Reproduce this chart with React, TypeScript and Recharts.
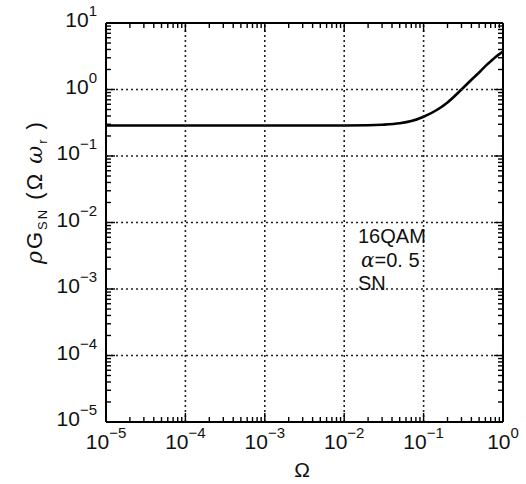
import { LineChart, Line, XAxis, YAxis } from 'recharts';

// Ω (normalised frequency) and ρ·G_SN
const omega = [1e-5, 1e-4, 1e-3, 1e-2, 0.02, 0.03, 0.05, 0.07, 0.1, 0.15, 0.2, 0.3, 0.4, 0.5, 0.6, 0.7, 0.8, 0.9, 1.0];
const gain = [0.287, 0.287, 0.287, 0.288, 0.29, 0.295, 0.31, 0.335, 0.39, 0.5, 0.64, 1.0, 1.4, 1.8, 2.25, 2.65, 3.05, 3.4, 3.7];

const xDecades = [1e-5, 1e-4, 1e-3, 1e-2, 1e-1, 1];
const yDecades = [1e-5, 1e-4, 1e-3, 1e-2, 1e-1, 1, 10];
const xExponents = ['−5', '−4', '−3', '−2', '−1', '0'];
const yExponents = ['−5', '−4', '−3', '−2', '−1', '0', '1'];

const data = omega.map((w, i) => ({ w, g: gain[i] }));

// decade ticks plus the 2..9 minor ticks between them
const withMinors = (decades: number[]) => {
    const out: number[] = [];
    decades.forEach((d, i) => {
        out.push(d);
        if (i < decades.length - 1) {
            for (let k = 2; k <= 9; k++) out.push(k * d);
        }
    });
    return out;
};
const xTicks = withMinors(xDecades);
const yTicks = withMinors(yDecades);

const isMajor = (v: number) => Math.abs(Math.log10(v) - Math.round(Math.log10(v))) < 1e-6;
const decadeIndex = (v: number, decades: number[]) =>
    decades.findIndex((d) => Math.abs(Math.log10(d) - Math.log10(v)) < 1e-6);

const FONT = '"Liberation Sans Narrow", "Liberation Sans", Arial, sans-serif';
const PLOT_TOP = 23;
const PLOT_RIGHT = 503;
const MAJOR = 9;
const MINOR = 5;
const GRID = { stroke: '#222', strokeWidth: 1.6, strokeDasharray: '2 3' };

// bottom axis tick: inward tick, mirrored tick on top frame, dotted grid at inner decades
const BottomTick = (props: any) => {
    const { x, y, payload } = props;
    const v = payload.value;
    const major = isMajor(v);
    const len = major ? MAJOR : MINOR;
    const idx = decadeIndex(v, xDecades);
    const inner = major && idx > 0 && idx < xDecades.length - 1;
    return (
        <g>
            {inner && <line x1={x} x2={x} y1={y} y2={PLOT_TOP} {...GRID} />}
            <line x1={x} x2={x} y1={y} y2={y - len} stroke="#000" strokeWidth={1.4} />
            <line x1={x} x2={x} y1={PLOT_TOP} y2={PLOT_TOP + len} stroke="#000" strokeWidth={1.4} />
            {major && idx >= 0 && (
                <text x={x} y={y + 27} textAnchor="middle" fontFamily={FONT} fontSize={21} fill="#111">
                    10<tspan dy={-11} fontSize={15}>{xExponents[idx]}</tspan>
                </text>
            )}
        </g>
    );
};

// left axis tick: inward tick, mirrored tick on right frame, dotted grid at inner decades
const LeftTick = (props: any) => {
    const { x, y, payload } = props;
    const v = payload.value;
    const major = isMajor(v);
    const len = major ? MAJOR : MINOR;
    const idx = decadeIndex(v, yDecades);
    const inner = major && idx > 0 && idx < yDecades.length - 1;
    return (
        <g>
            {inner && <line x1={x} x2={PLOT_RIGHT} y1={y} y2={y} {...GRID} />}
            <line x1={x} x2={x + len} y1={y} y2={y} stroke="#000" strokeWidth={1.4} />
            <line x1={PLOT_RIGHT} x2={PLOT_RIGHT - len} y1={y} y2={y} stroke="#000" strokeWidth={1.4} />
            {major && idx >= 0 && (
                <text x={x - 9} y={y + 4} textAnchor="end" fontFamily={FONT} fontSize={21} fill="#111">
                    10<tspan dy={-11} fontSize={15}>{yExponents[idx]}</tspan>
                </text>
            )}
        </g>
    );
};

export default function App() {
    return (
        <div style={{ position: 'relative', width: 526, height: 484, background: '#fff' }}>
            <style>{'body{margin:0}'}</style>
            <LineChart width={526} height={484} data={data} margin={{ top: 22, right: 22, bottom: 0, left: 6 }}>
                <XAxis
                    dataKey="w"
                    type="number"
                    scale="log"
                    domain={[1e-5, 1]}
                    allowDataOverflow
                    ticks={xTicks}
                    interval={0}
                    tickSize={0}
                    tickMargin={0}
                    height={62}
                    axisLine={{ stroke: '#000', strokeWidth: 2 }}
                    tick={<BottomTick />}
                />
                <XAxis
                    xAxisId="top"
                    orientation="top"
                    type="number"
                    scale="log"
                    domain={[1e-5, 1]}
                    allowDataOverflow
                    ticks={[1e-5, 1]}
                    tickSize={0}
                    height={1}
                    axisLine={{ stroke: '#000', strokeWidth: 2 }}
                    tick={false}
                />
                <YAxis
                    type="number"
                    scale="log"
                    domain={[1e-5, 10]}
                    allowDataOverflow
                    ticks={yTicks}
                    interval={0}
                    tickSize={0}
                    tickMargin={0}
                    width={100}
                    axisLine={{ stroke: '#000', strokeWidth: 2 }}
                    tick={<LeftTick />}
                />
                <YAxis
                    yAxisId="right"
                    orientation="right"
                    type="number"
                    scale="log"
                    domain={[1e-5, 10]}
                    allowDataOverflow
                    ticks={[1e-5, 10]}
                    tickSize={0}
                    width={1}
                    axisLine={{ stroke: '#000', strokeWidth: 2 }}
                    tick={false}
                />
                <Line
                    dataKey="g"
                    type="monotone"
                    stroke="#000"
                    strokeWidth={2.6}
                    dot={false}
                    isAnimationActive={false}
                />
            </LineChart>
            <svg
                width={526}
                height={484}
                style={{ position: 'absolute', left: 0, top: 0, pointerEvents: 'none' }}
                fontFamily={FONT}
                fill="#111"
            >
                <text x={358} y={243} fontSize={20}>16QAM</text>
                <text x={361} y={267} fontSize={20}>
                    <tspan fontFamily="DejaVu Serif" fontStyle="italic">α</tspan>=0. 5
                </text>
                <text x={358} y={290} fontSize={20}>SN</text>
                <text x={302} y={477} fontSize={21} textAnchor="middle">Ω</text>
                <text
                    x={35}
                    y={199}
                    fontSize={22}
                    textAnchor="middle"
                    transform="rotate(-90, 35, 192)"
                    letterSpacing={2}
                >
                    <tspan fontFamily="DejaVu Serif" fontStyle="italic">ρ</tspan>G
                    <tspan dy={5} fontSize={13}>SN</tspan>
                    <tspan dy={-5}> (Ω </tspan>
                    <tspan fontFamily="DejaVu Serif" fontStyle="italic">ω</tspan>
                    <tspan dy={5} fontSize={13}>r</tspan>
                    <tspan dy={-5}> )</tspan>
                </text>
            </svg>
        </div>
    );
}
